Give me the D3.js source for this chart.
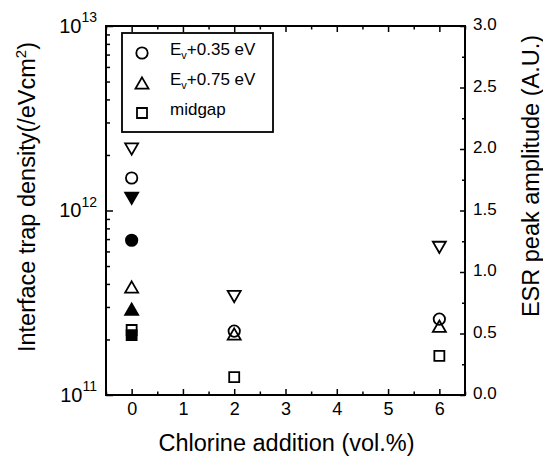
<!DOCTYPE html>
<html><head><meta charset="utf-8">
<script src="https://cdn.jsdelivr.net/npm/d3@7"></script>
<style>
body{margin:0;background:#fff}
text{font-family:"Liberation Sans",Arial,Helvetica,sans-serif;fill:#000}
</style>
</head><body>
<svg id="c" width="543" height="456"></svg>
<script>
// ---- data ----
const chlorine = [0, 2, 6];
const ev035 = [1.50e12, 2.22e11, 2.58e11];
const ev075 = [3.85e11, 2.14e11, 2.36e11];
const midgap = [2.25e11, 1.25e11, 1.63e11];
const refX = [0];
const ev035Ref = [6.9e11];
const ev075Ref = [2.92e11];
const midgapRef = [2.11e11];
const esr = [2.0, 0.8, 1.2];
const esrRef = [1.6];
const xTicks = [0, 1, 2, 3, 4, 5, 6];
const leftTicks = [1e11, 1e12, 1e13];
const leftTickExp = ["11", "12", "13"];
const rightTicks = [0, 0.5, 1.0, 1.5, 2.0, 2.5, 3.0];
const legendLabels = [
  [["E", 0], ["v", 1], ["+0.35 eV", 0]],
  [["E", 0], ["v", 1], ["+0.75 eV", 0]],
  [["midgap", 0]]
];
const legendShapes = ["circle", "triangle", "square"];

// ---- layout ----
const W = 543, H = 456;
const L = 106, R = 465, T = 26, B = 395;
const svg = d3.select("#c");

const x = d3.scaleLinear().domain([-0.5, 6.5]).range([L, R]);
const yL = d3.scaleLog().domain([1e11, 1e13]).range([B, T]);
const yR = d3.scaleLinear().domain([0, 3]).range([B, T]);

// custom symbols centred on bbox
const tri = {draw(ctx, size){ const s = Math.sqrt(size); const h = s*Math.sqrt(3)/2;
  ctx.moveTo(0, -h/2); ctx.lineTo(s/2, h/2); ctx.lineTo(-s/2, h/2); ctx.closePath(); }};
const sq = {draw(ctx, size){ const s = Math.sqrt(size);
  ctx.rect(-s/2, -s/2, s, s); }};
const circ = {draw(ctx, size){ const r = Math.sqrt(size)/2;
  ctx.moveTo(r, 0); ctx.arc(0, 0, r, 0, 2*Math.PI); }};
const shapes = {
  circle: d3.symbol().type(circ).size(11.4*11.4),
  triangle: d3.symbol().type(tri).size(13*13),
  square: d3.symbol().type(sq).size(10*10)
};

// ---- axes ----
function styleAxis(g){
  g.select(".domain").remove();
  g.selectAll(".tick line").attr("stroke", "#000").attr("stroke-width", 1.5);
}
const minorX = d3.range(-0.5, 6.51, 0.5).filter(v => !xTicks.includes(v));
svg.append("g").attr("transform", `translate(0,${B})`)
  .call(d3.axisBottom(x).tickValues(xTicks).tickSize(-6).tickSizeOuter(0).tickPadding(7).tickFormat(d3.format("d")))
  .call(styleAxis)
  .call(g => g.selectAll("text").attr("font-size", 18).attr("font-family", "Liberation Sans, Arial, sans-serif"));
svg.append("g").attr("transform", `translate(0,${B})`)
  .call(d3.axisBottom(x).tickValues(minorX).tickSize(-3.5).tickSizeOuter(0).tickFormat(""))
  .call(styleAxis);
svg.append("g").attr("transform", `translate(0,${T})`)
  .call(d3.axisTop(x).tickValues(xTicks).tickSize(-6).tickSizeOuter(0).tickFormat(""))
  .call(styleAxis);
svg.append("g").attr("transform", `translate(0,${T})`)
  .call(d3.axisTop(x).tickValues(minorX).tickSize(-3.5).tickSizeOuter(0).tickFormat(""))
  .call(styleAxis);

// left log axis
const minorL = [];
[1e11, 1e12].forEach(d => { for (let k = 2; k <= 9; k++) minorL.push(d*k); });
const gl = svg.append("g").attr("transform", `translate(${L},0)`)
  .call(d3.axisLeft(yL).tickValues(leftTicks).tickSize(-7).tickSizeOuter(0).tickPadding(9).tickFormat(""))
  .call(styleAxis);
gl.selectAll(".tick text").each(function(d, i){
  const t = d3.select(this).attr("font-size", 20).attr("font-family", "Liberation Sans, Arial, sans-serif").attr("dy", "0.32em");
  t.append("tspan").text("10");
  t.append("tspan").attr("font-size", 14).attr("dy", "-0.75em").text(leftTickExp[i]);
});
svg.append("g").attr("transform", `translate(${L},0)`)
  .call(d3.axisLeft(yL).tickValues(minorL).tickSize(-4).tickSizeOuter(0).tickFormat(""))
  .call(styleAxis);

// right linear axis
const minorR = d3.range(0.25, 3, 0.5);
svg.append("g").attr("transform", `translate(${R},0)`)
  .call(d3.axisRight(yR).tickValues(rightTicks).tickSize(-5).tickSizeOuter(0).tickPadding(8).tickFormat(d3.format(".1f")))
  .call(styleAxis)
  .call(g => g.selectAll("text").attr("font-size", 17).attr("dy", "0.22em").attr("font-family", "Liberation Sans, Arial, sans-serif"));
svg.append("g").attr("transform", `translate(${R},0)`)
  .call(d3.axisRight(yR).tickValues(minorR).tickSize(-3).tickSizeOuter(0).tickFormat(""))
  .call(styleAxis);

// frame
svg.append("rect").attr("x", L).attr("y", T).attr("width", R-L).attr("height", B-T)
  .attr("fill", "none").attr("stroke", "#000").attr("stroke-width", 2);

// ---- titles ----
svg.append("text").attr("x", (L+R)/2 + 1).attr("y", 451).attr("text-anchor", "middle")
  .attr("font-size", 23.5).text("Chlorine addition (vol.%)");
const lt = svg.append("text").attr("transform", "translate(35,197) rotate(-90)")
  .attr("text-anchor", "middle").attr("font-size", 23.5);
lt.append("tspan").text("Interface trap density(/eVcm");
lt.append("tspan").attr("font-size", 15).attr("dy", "-0.6em").text("2");
lt.append("tspan").attr("dy", "0.4em").text(")");
svg.append("text").attr("transform", "translate(539,176) rotate(-90)")
  .attr("text-anchor", "middle").attr("font-size", 23.5).text("ESR peak amplitude (A.U.)");

// ---- legend ----
const lg = svg.append("g");
lg.append("rect").attr("x", 122).attr("y", 33).attr("width", 151).attr("height", 99)
  .attr("fill", "#fff").attr("stroke", "#000").attr("stroke-width", 1.8);
legendLabels.forEach((parts, i) => {
  const cy = 53 + i*30;
  lg.append("path").attr("d", shapes[legendShapes[i]]()).attr("transform", `translate(142,${cy})`)
    .attr("fill", "none").attr("stroke", "#000").attr("stroke-width", 1.8);
  const t = lg.append("text").attr("x", 170).attr("y", cy + 6).attr("font-size", 17);
  parts.forEach(([s, sub]) => {
    if (sub) t.append("tspan").attr("font-size", 11).attr("dy", 4).text(s);
    else t.append("tspan").attr("dy", t.selectAll("tspan").size() ? -4 : 0).text(s);
  });
});

// ---- points ----
function plot(xs, ys, yScale, shape, filled, rot){
  svg.append("g").selectAll("path").data(xs.map((d, i) => [d, ys[i]])).join("path")
    .attr("d", shapes[shape]())
    .attr("transform", d => `translate(${x(d[0])},${yScale(d[1])})` + (rot ? " rotate(180)" : ""))
    .attr("fill", filled ? "#000" : "none")
    .attr("stroke", "#000").attr("stroke-width", 1.8);
}
plot(chlorine, midgap, yL, "square", false, false);
plot(refX, midgapRef, yL, "square", true, false);
plot(chlorine, ev075, yL, "triangle", false, false);
plot(refX, ev075Ref, yL, "triangle", true, false);
plot(chlorine, ev035, yL, "circle", false, false);
plot(refX, ev035Ref, yL, "circle", true, false);
plot(chlorine, esr, yR, "triangle", false, true);
plot(refX, esrRef, yR, "triangle", true, true);
</script>
</body></html>
